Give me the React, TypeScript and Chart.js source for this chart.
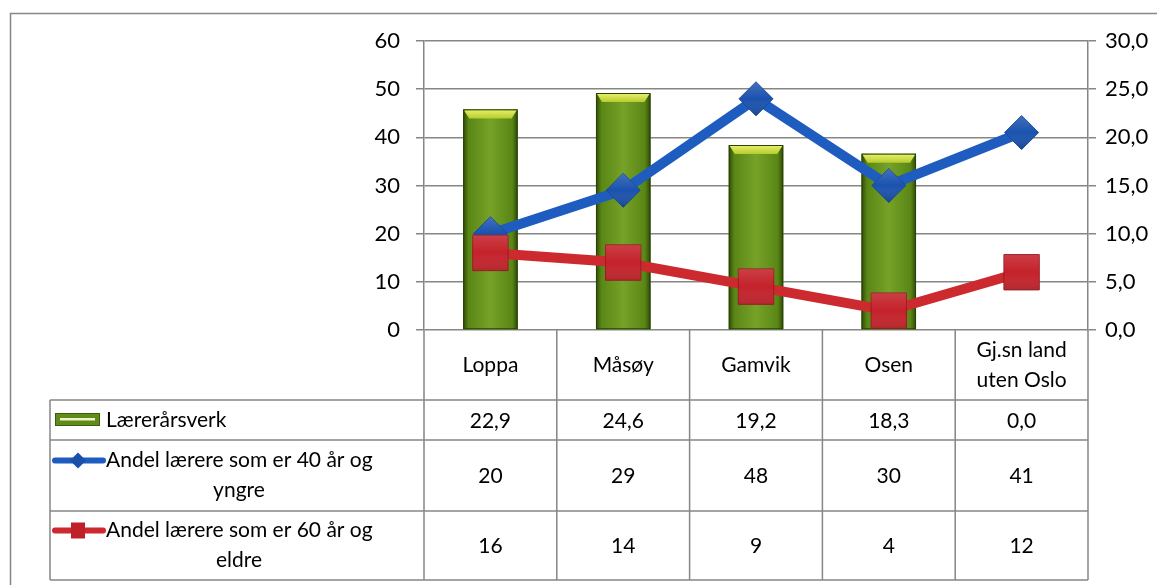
import React, { useEffect, useRef } from 'react';
import { Chart, registerables } from 'chart.js';

Chart.register(...registerables);

// ---- data ----
const categories: string[][] = [['Loppa'], ['Måsøy'], ['Gamvik'], ['Osen'], ['Gj.sn land', 'uten Oslo']];
const laererarsverk: number[] = [22.9, 24.6, 19.2, 18.3, 0.0];
const andelUnder40: number[] = [20, 29, 48, 30, 41];
const andelOver60: number[] = [16, 14, 9, 4, 12];
const seriesNames: string[] = ['Lærerårsverk', 'Andel lærere som er 40 år og yngre', 'Andel lærere som er 60 år og eldre'];
const legendLines: string[][] = [['Lærerårsverk'], ['Andel lærere som er 40 år og', 'yngre'], ['Andel lærere som er 60 år og', 'eldre']];
const leftAxis = { min: 0, max: 60, step: 10 };
const rightAxis = { min: 0, max: 30, step: 5 };

const FONT = 'Lato, "Open Sans", sans-serif';
const FS = 21;
const LINE = '#868686';
const BLUE = '#1f5cc0';
const RED = '#cc2a2e';

const fmt1 = (v: number) => v.toFixed(1).replace('.', ',');

const W = 1157;
const H = 585;

const barStylePlugin = {
  id: 'barStyle',
  afterDatasetDraw(chart: any, args: any) {
    const ctx: CanvasRenderingContext2D = chart.ctx;
    const ds = chart.data.datasets[args.index];
    ctx.save();
    if (ds.type === 'bar') {
      args.meta.data.forEach((bar: any) => {
        const { x, y, base, width } = bar.getProps(['x', 'y', 'base', 'width'], true);
        const h = base - y;
        if (h < 1) return;
        const l = x - width / 2;
        const g = ctx.createLinearGradient(l, 0, l + width, 0);
        g.addColorStop(0, '#2f4a08');
        g.addColorStop(0.1, '#5a8616');
        g.addColorStop(0.5, '#76a228');
        g.addColorStop(0.9, '#5a8616');
        g.addColorStop(1, '#2f4a08');
        ctx.fillStyle = g;
        ctx.fillRect(l, y, width, h);
        ctx.strokeStyle = '#2a4206';
        ctx.lineWidth = 1;
        ctx.strokeRect(l + 0.5, y + 0.5, width - 1, h - 1);
        const bevel = 9;
        const gt = ctx.createLinearGradient(0, y, 0, y + bevel);
        gt.addColorStop(0, '#eaf26e');
        gt.addColorStop(1, '#b6cc2c');
        ctx.fillStyle = gt;
        ctx.beginPath();
        ctx.moveTo(l + 1, y + 1);
        ctx.lineTo(l + width - 1, y + 1);
        ctx.lineTo(l + width - 6, y + bevel);
        ctx.lineTo(l + 6, y + bevel);
        ctx.closePath();
        ctx.fill();
      });
    } else {
      const r = ds.pointRadius;
      args.meta.data.forEach((pt: any) => {
        const { x, y } = pt.getProps(['x', 'y'], true);
        const g = ctx.createLinearGradient(0, y - r, 0, y + r);
        g.addColorStop(0, 'rgba(255,255,255,0.18)');
        g.addColorStop(0.5, 'rgba(255,255,255,0)');
        g.addColorStop(1, 'rgba(0,0,0,0.2)');
        ctx.fillStyle = g;
        ctx.beginPath();
        if (ds.pointStyle === 'rect') {
          const s = Math.SQRT1_2 * r;
          ctx.rect(x - s, y - s, 2 * s, 2 * s);
        } else {
          ctx.moveTo(x, y - r);
          ctx.lineTo(x + r, y);
          ctx.lineTo(x, y + r);
          ctx.lineTo(x - r, y);
          ctx.closePath();
        }
        ctx.fill();
      });
    }
    ctx.restore();
  },
};

function drawKey(ctx: CanvasRenderingContext2D, r: number, x: number, y: number) {
  ctx.save();
  if (r === 0) {
    ctx.fillStyle = '#5f8a1c';
    ctx.fillRect(x + 2, y - 7, 45, 13);
    ctx.strokeStyle = '#3e5c0c';
    ctx.lineWidth = 1;
    ctx.strokeRect(x + 2.5, y - 6.5, 44, 12);
    ctx.fillStyle = '#eef5c4';
    ctx.fillRect(x + 7, y - 2, 35, 2.5);
  } else {
    const col = r === 1 ? BLUE : RED;
    ctx.strokeStyle = col;
    ctx.lineWidth = 6;
    ctx.lineCap = 'round';
    ctx.beginPath();
    ctx.moveTo(x + 2, y);
    ctx.lineTo(x + 50, y);
    ctx.stroke();
    ctx.fillStyle = r === 1 ? '#1a50a8' : '#c0202a';
    const cx = x + 25;
    ctx.beginPath();
    if (r === 1) {
      ctx.moveTo(cx, y - 8);
      ctx.lineTo(cx + 8, y);
      ctx.lineTo(cx, y + 8);
      ctx.lineTo(cx - 8, y);
      ctx.closePath();
    } else {
      ctx.rect(cx - 7, y - 8, 14, 16);
    }
    ctx.fill();
  }
  ctx.restore();
}

const tablePlugin = {
  id: 'dataTable',
  afterDraw(chart: any) {
    const ctx: CanvasRenderingContext2D = chart.ctx;
    const { left, right, bottom } = chart.chartArea;
    const xs = chart.scales.x;
    const n = categories.length;
    const colW = (right - left) / n;
    const bounds: number[] = [];
    for (let i = 0; i < n; i++) bounds.push(xs.getPixelForValue(i) - colW / 2);
    bounds.push(right);
    const centers = categories.map((_, i) => xs.getPixelForValue(i));

    const catBottom = bottom + 70;
    const rows = [catBottom, catBottom + 40, catBottom + 111, catBottom + 180];
    const legendLeft = 50;

    ctx.save();
    ctx.strokeStyle = LINE;
    ctx.lineWidth = 1.5;
    ctx.beginPath();
    ctx.moveTo(10.5, H + 2);
    ctx.lineTo(10.5, 13.5);
    ctx.lineTo(W + 2, 13.5);
    ctx.stroke();

    ctx.beginPath();
    bounds.forEach((bx) => {
      ctx.moveTo(bx, bottom);
      ctx.lineTo(bx, rows[3]);
    });
    ctx.moveTo(legendLeft, rows[0]);
    ctx.lineTo(legendLeft, rows[3]);
    rows.forEach((ry) => {
      ctx.moveTo(legendLeft, ry);
      ctx.lineTo(right, ry);
    });
    ctx.stroke();

    ctx.fillStyle = '#000';
    ctx.font = `${FS}px ${FONT}`;
    ctx.textBaseline = 'middle';
    ctx.textAlign = 'center';
    categories.forEach((lines, i) => {
      const mid = (bottom + catBottom) / 2;
      const lh = 30;
      lines.forEach((t, j) => {
        ctx.fillText(t, centers[i], mid + (j - (lines.length - 1) / 2) * lh);
      });
    });

    const series = [laererarsverk.map(fmt1), andelUnder40.map(String), andelOver60.map(String)];
    const legendCenter = (legendLeft + left) / 2;
    series.forEach((vals, r) => {
      const top = rows[r];
      const bot = rows[r + 1];
      const mid = (top + bot) / 2;
      vals.forEach((v, i) => {
        ctx.textAlign = 'center';
        ctx.fillText(v, centers[i], mid + 1);
      });
      const lines = legendLines[r];
      const lh = 30;
      const y0 = mid - ((lines.length - 1) / 2) * lh;
      const ky = lines.length > 1 ? y0 : mid;
      drawKey(ctx, r, 53, ky);
      lines.forEach((t, j) => {
        const y = y0 + j * lh;
        if (j === 0) {
          ctx.textAlign = 'left';
          ctx.fillText(t, 106, y);
        } else {
          ctx.textAlign = 'center';
          ctx.fillText(t, legendCenter + 2, y);
        }
      });
    });
    ctx.restore();
  },
};

export default function App() {
  const ref = useRef<HTMLCanvasElement | null>(null);
  useEffect(() => {
    if (!ref.current) return;
    const chart = new Chart(ref.current, {
      type: 'bar',
      data: {
        labels: categories.map((c) => c.join(' ')),
        datasets: [
          {
            type: 'bar',
            label: seriesNames[0],
            data: laererarsverk,
            yAxisID: 'y1',
            backgroundColor: '#6a9a22',
            borderWidth: 0,
            barPercentage: 0.41,
            categoryPercentage: 1,
            order: 2,
          } as any,
          {
            type: 'line',
            label: seriesNames[1],
            data: andelUnder40,
            yAxisID: 'y',
            borderColor: BLUE,
            borderWidth: 10,
            backgroundColor: '#1a52ae',
            pointBackgroundColor: '#1a52ae',
            pointBorderColor: '#164894',
            pointBorderWidth: 1,
            pointStyle: 'rectRot',
            pointRadius: 17,
            pointHoverRadius: 17,
            tension: 0,
            order: 1,
          } as any,
          {
            type: 'line',
            label: seriesNames[2],
            data: andelOver60,
            yAxisID: 'y',
            borderColor: RED,
            borderWidth: 10,
            backgroundColor: '#c4222a',
            pointBackgroundColor: '#c4222a',
            pointBorderColor: '#9a1a20',
            pointBorderWidth: 1,
            pointStyle: 'rect',
            pointRadius: 25,
            pointHoverRadius: 25,
            tension: 0,
            order: 0,
          } as any,
        ],
      },
      options: {
        animation: false,
        responsive: false,
        devicePixelRatio: 1,
        layout: { padding: { left: 0, right: 0, top: 41, bottom: H - 330 } },
        plugins: { legend: { display: false }, tooltip: { enabled: false } },
        scales: {
          x: { display: false, offset: true },
          y: {
            position: 'left',
            min: leftAxis.min,
            max: leftAxis.max,
            ticks: { stepSize: leftAxis.step, padding: 16, color: '#000', font: { family: FONT, size: FS + 1 } },
            grid: { color: LINE, lineWidth: 1.5, tickLength: 8 },
            border: { color: LINE, width: 1.5 },
            afterFit: (s: any) => { s.width = 424; },
          },
          y1: {
            position: 'right',
            min: rightAxis.min,
            max: rightAxis.max,
            ticks: { stepSize: rightAxis.step, padding: 9, color: '#000', font: { family: FONT, size: FS + 1 }, callback: (v: any) => fmt1(Number(v)) },
            grid: { drawOnChartArea: false, color: LINE, lineWidth: 1.5, tickLength: 8 },
            border: { color: LINE, width: 1.5 },
            afterFit: (s: any) => { s.width = W - 1088; },
          },
        },
      },
      plugins: [barStylePlugin, tablePlugin],
    } as any);
    return () => chart.destroy();
  }, []);
  return (
    <div style={{ position: 'fixed', left: 0, top: 0, width: W, height: H, background: '#fff' }}>
      <canvas ref={ref} width={W} height={H} style={{ display: 'block', width: W, height: H }} />
    </div>
  );
}
